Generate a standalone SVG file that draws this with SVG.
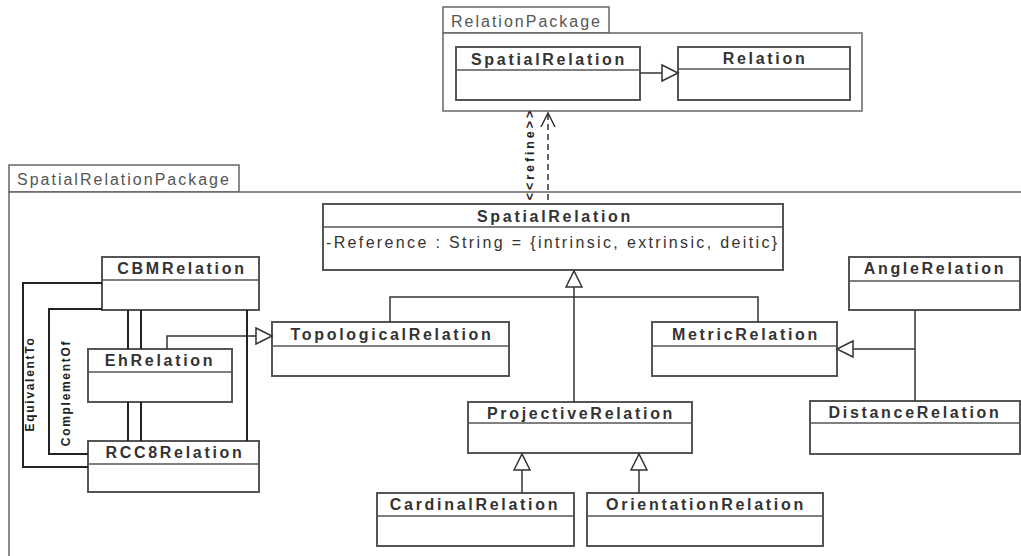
<svg xmlns="http://www.w3.org/2000/svg" width="1021" height="556" viewBox="0 0 1021 556">
<style>
.pkg{fill:#fff;stroke:#666;stroke-width:1.5}
.box{fill:#fff;stroke:#555;stroke-width:2}
.div{stroke:#555;stroke-width:1.5}
.pl{font-family:"Liberation Sans",Arial,sans-serif;font-size:16px;letter-spacing:2px;fill:#555}
.t{font-family:"Liberation Sans",Arial,sans-serif;font-size:16px;font-weight:bold;letter-spacing:2.7px;fill:#333;text-anchor:middle}
.a{font-family:"Liberation Sans",Arial,sans-serif;font-size:16px;letter-spacing:2.35px;fill:#333}
.c{fill:none;stroke:#333;stroke-width:1.5}
.k{fill:none;stroke:#222;stroke-width:2}
.tri{fill:#fff;stroke:#333;stroke-width:1.5}
.lbl{font-family:"Liberation Sans",Arial,sans-serif;font-size:12px;font-weight:bold;letter-spacing:1.7px;fill:#222;text-anchor:middle}
.rl{letter-spacing:2.9px;font-size:12.5px}
</style>
<rect width="1021" height="556" fill="#fff"/>
<g id="RelationPackage">
<rect class="pkg" x="443" y="7" width="166" height="26"/>
<rect class="pkg" x="443" y="33" width="419" height="78"/>
<text class="pl" x="451" y="27">RelationPackage</text>
</g>
<g id="SpatialRelationPackage">
<rect class="pkg" x="9" y="165" width="230" height="27"/>
<path class="pkg" d="M1022,192 H9 V557" fill="none"/>
<text class="pl" x="17" y="185">SpatialRelationPackage</text>
</g>
<g id="RP_SpatialRelation">
<rect class="box" x="456" y="47" width="184" height="53"/>
<line class="div" x1="456" y1="70" x2="640" y2="70"/>
<text class="t" x="549" y="65">SpatialRelation</text>
</g>
<g id="RP_Relation">
<rect class="box" x="678" y="47" width="172" height="53"/>
<line class="div" x1="678" y1="69" x2="850" y2="69"/>
<text class="t" x="765" y="64">Relation</text>
</g>
<g id="SpatialRelation">
<rect class="box" x="323" y="204" width="460" height="66"/>
<line class="div" x1="323" y1="227" x2="783" y2="227"/>
<text class="t" x="555" y="222">SpatialRelation</text>
<text class="a" x="326" y="248">-Reference : String = {intrinsic, extrinsic, deitic}</text>
</g>
<g id="CBMRelation">
<rect class="box" x="102" y="257" width="157" height="53"/>
<line class="div" x1="102" y1="280" x2="259" y2="280"/>
<text class="t" x="182" y="274">CBMRelation</text>
</g>
<g id="EhRelation">
<rect class="box" x="88" y="349" width="144" height="53"/>
<line class="div" x1="88" y1="372" x2="232" y2="372"/>
<text class="t" x="160" y="366">EhRelation</text>
</g>
<g id="RCC8Relation">
<rect class="box" x="88" y="441" width="171" height="51"/>
<line class="div" x1="88" y1="464" x2="259" y2="464"/>
<text class="t" x="175" y="458">RCC8Relation</text>
</g>
<g id="TopologicalRelation">
<rect class="box" x="272" y="322" width="237" height="54"/>
<line class="div" x1="272" y1="346" x2="509" y2="346"/>
<text class="t" x="392" y="340">TopologicalRelation</text>
</g>
<g id="MetricRelation">
<rect class="box" x="652" y="322" width="185" height="54"/>
<line class="div" x1="652" y1="346" x2="837" y2="346"/>
<text class="t" x="746" y="340">MetricRelation</text>
</g>
<g id="AngleRelation">
<rect class="box" x="849" y="257" width="171" height="53"/>
<line class="div" x1="849" y1="281" x2="1020" y2="281"/>
<text class="t" x="935" y="274">AngleRelation</text>
</g>
<g id="DistanceRelation">
<rect class="box" x="810" y="401" width="210" height="53"/>
<line class="div" x1="810" y1="423" x2="1020" y2="423"/>
<text class="t" x="915" y="418">DistanceRelation</text>
</g>
<g id="ProjectiveRelation">
<rect class="box" x="468" y="402" width="224" height="51"/>
<line class="div" x1="468" y1="423" x2="692" y2="423"/>
<text class="t" x="581" y="419">ProjectiveRelation</text>
</g>
<g id="CardinalRelation">
<rect class="box" x="377" y="493" width="197" height="53"/>
<line class="div" x1="377" y1="516" x2="574" y2="516"/>
<text class="t" x="475" y="510">CardinalRelation</text>
</g>
<g id="OrientationRelation">
<rect class="box" x="587" y="493" width="236" height="53"/>
<line class="div" x1="587" y1="516" x2="823" y2="516"/>
<text class="t" x="706" y="510">OrientationRelation</text>
</g>
<g id="connectors">
<line class="c" x1="640" y1="73" x2="662" y2="73"/>
<polygon class="tri" points="662,65 678,73 662,81"/>
<line class="c" x1="548" y1="114" x2="548" y2="204" stroke-dasharray="6,4"/>
<polyline class="c" points="541,127 548,113 555,127"/>
<text class="lbl rl" transform="translate(534,154) rotate(-90)">&lt;&lt;refine&gt;&gt;</text>
<line class="c" x1="574" y1="287" x2="574" y2="402"/>
<polyline class="c" points="390,322 390,297 758,297 758,322"/>
<polygon class="tri" points="566,287 574,271 582,287"/>
<line class="c" x1="915" y1="310" x2="915" y2="401"/>
<line class="c" x1="915" y1="349" x2="853" y2="349"/>
<polygon class="tri" points="853,341 837,349 853,357"/>
<line class="c" x1="522" y1="493" x2="522" y2="470"/>
<polygon class="tri" points="514,470 522,454 530,470"/>
<line class="c" x1="639" y1="493" x2="639" y2="470"/>
<polygon class="tri" points="631,470 639,454 647,470"/>
<polyline class="c" points="167,349 167,336 256,336"/>
<polygon class="tri" points="256,328 272,336 256,344"/>
<polyline class="k" points="102,283 23,283 23,467 88,467"/>
<text class="lbl" transform="translate(34,384) rotate(-90)">EquivalentTo</text>
<polyline class="k" points="102,309 49,309 49,454 88,454"/>
<text class="lbl" transform="translate(70,393) rotate(-90)">ComplementOf</text>
<line class="k" x1="128" y1="310" x2="128" y2="349"/>
<line class="k" x1="141" y1="310" x2="141" y2="349"/>
<line class="k" x1="128" y1="402" x2="128" y2="441"/>
<line class="k" x1="141" y1="402" x2="141" y2="441"/>
<line class="k" x1="247" y1="310" x2="247" y2="441"/>
</g>
</svg>
